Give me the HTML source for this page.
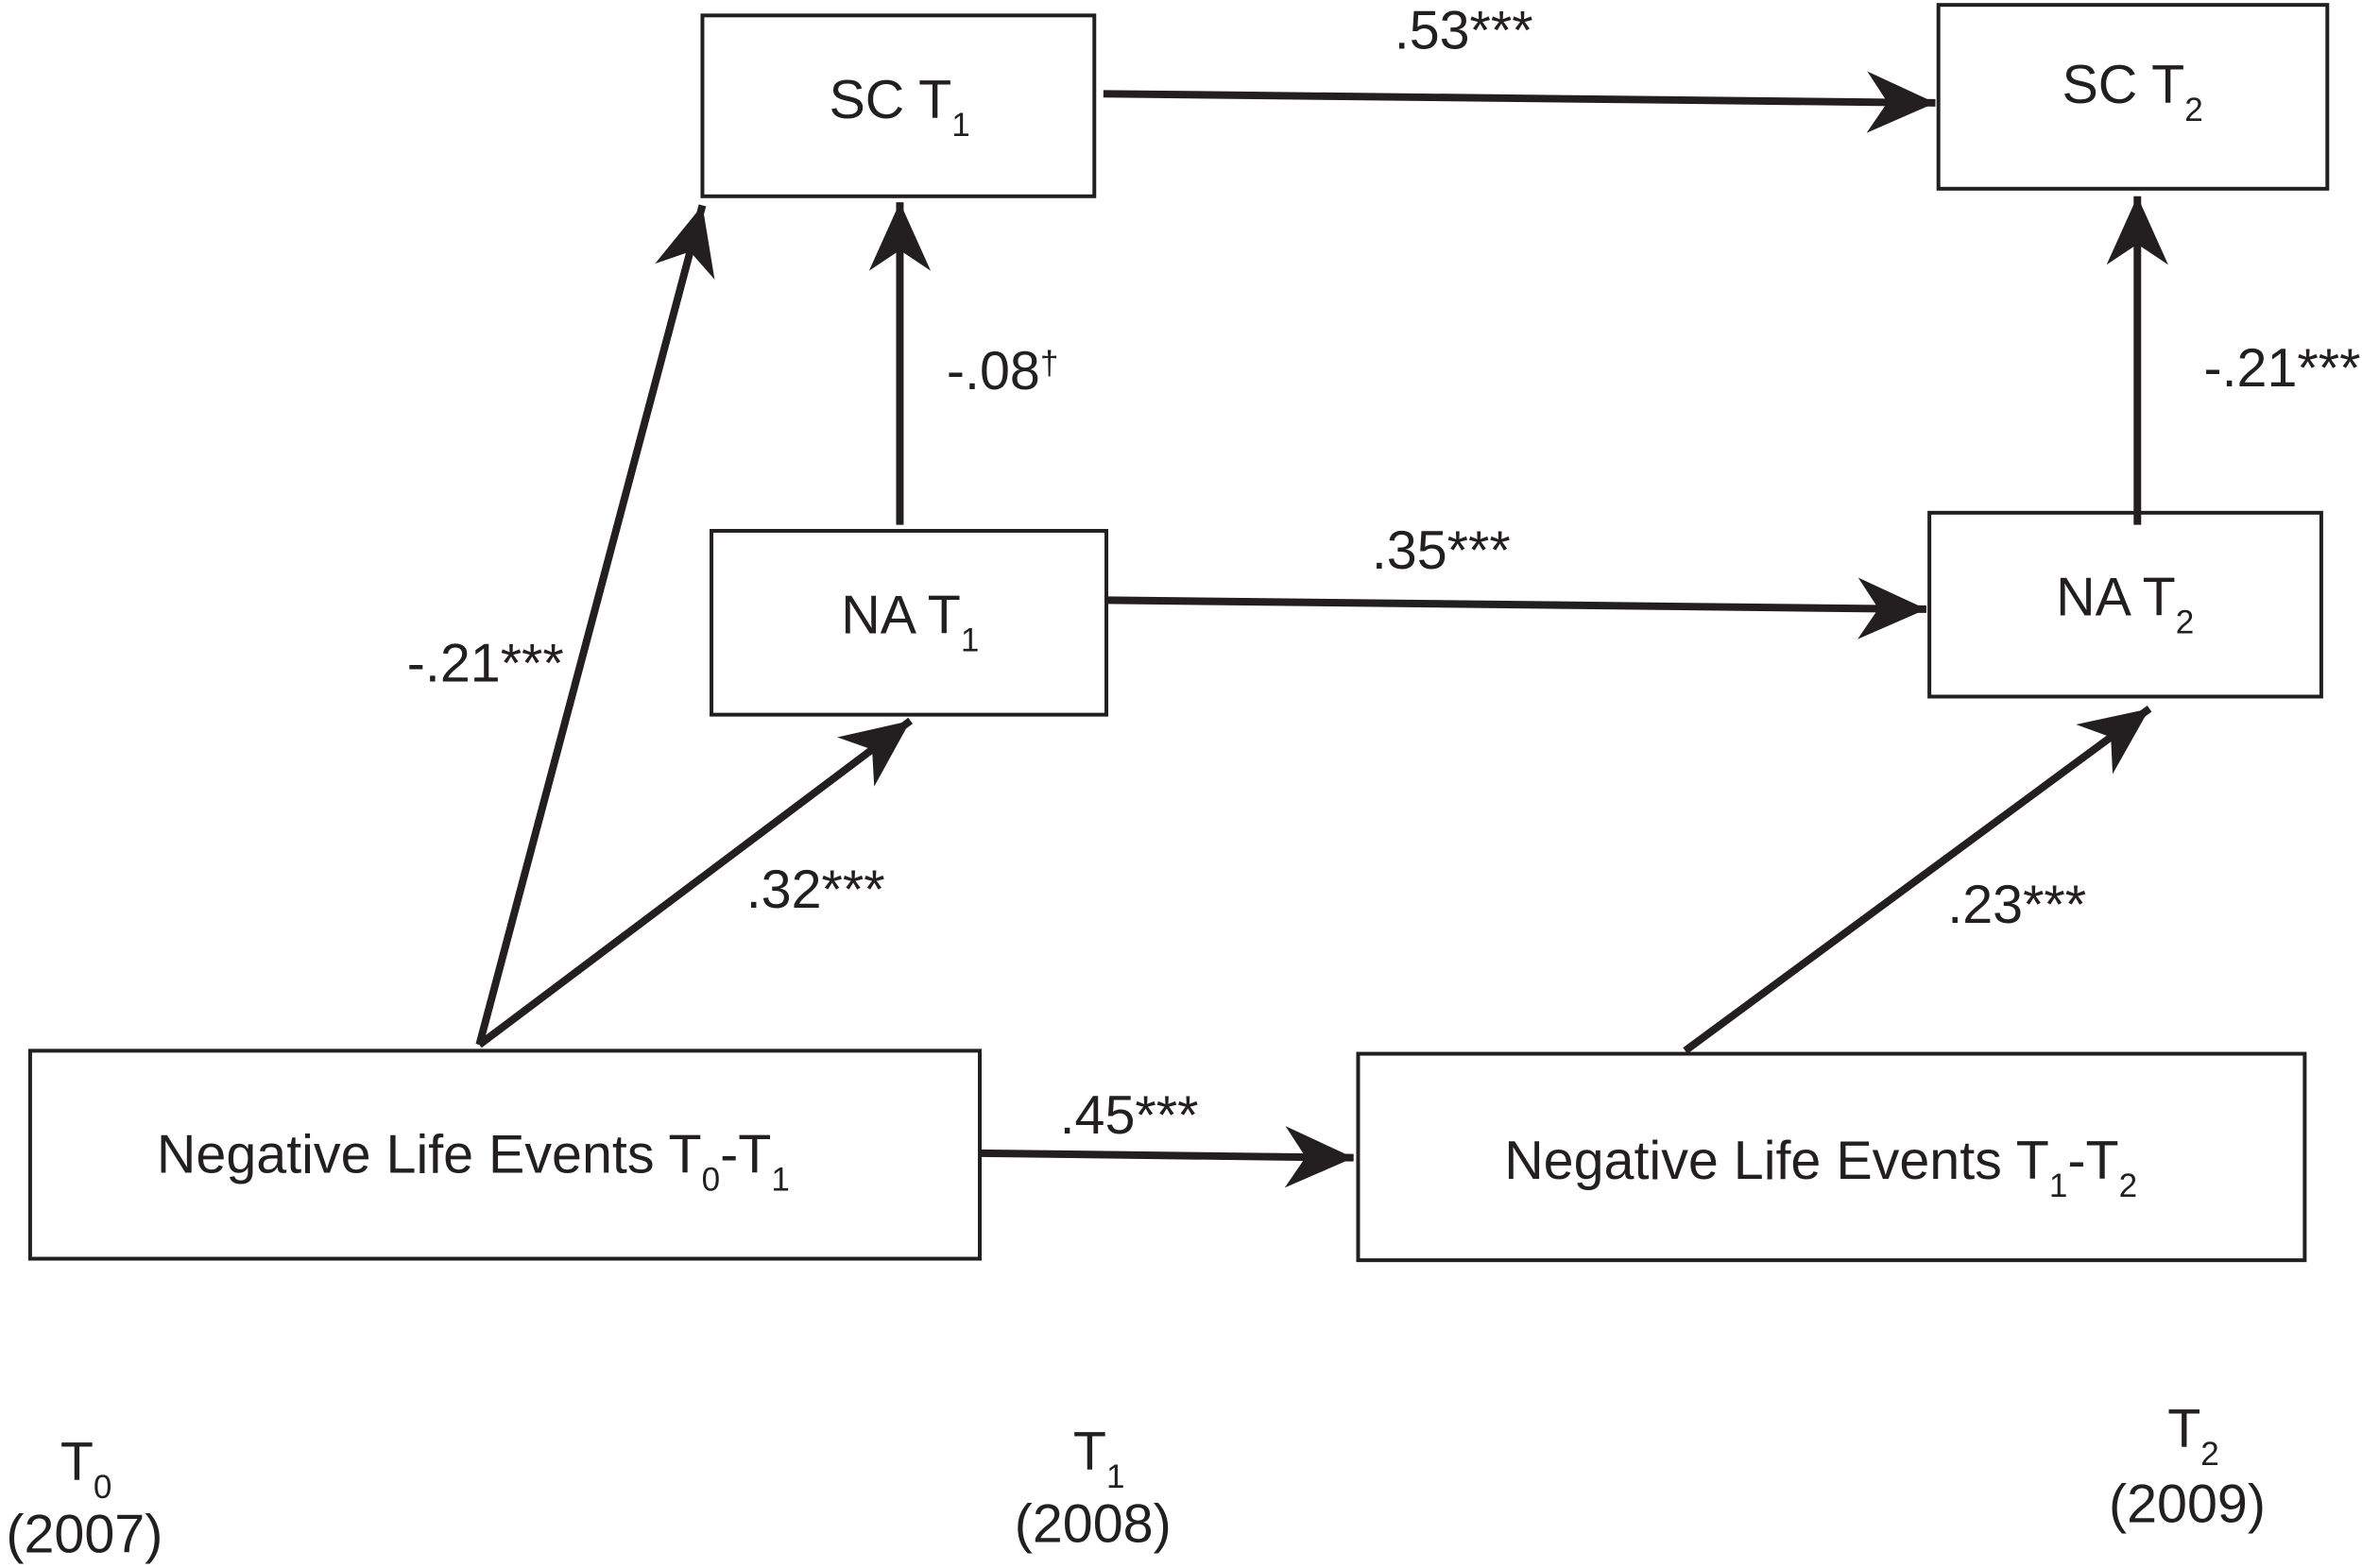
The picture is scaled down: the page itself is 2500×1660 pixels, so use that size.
<!DOCTYPE html>
<html><head><meta charset="utf-8"><style>
html,body{margin:0;padding:0;background:#fff;}
svg{display:block;}
text{font-family:"Liberation Sans",Arial,sans-serif;fill:#231f20;}
</style></head><body>
<svg width="2500" height="1660" viewBox="0 0 1567 1040" xmlns="http://www.w3.org/2000/svg">
<defs>
<marker id="a" markerUnits="userSpaceOnUse" markerWidth="50" markerHeight="50" viewBox="-40 -20 44 40" refX="0" refY="0" orient="auto">
<path d="M0,0 L-40,-18 L-28,0 L-40,18 Z" fill="#231f20"/>
</marker>
</defs>
<g fill="none" stroke="#231f20" stroke-width="2.5">
<rect x="466" y="10" width="260" height="120"/>
<rect x="1286" y="3" width="258" height="122"/>
<rect x="472" y="352" width="262" height="122"/>
<rect x="1280" y="340" width="260" height="122"/>
<rect x="20" y="697" width="630" height="138"/>
<rect x="901" y="699" width="628" height="137"/>
</g>
<g stroke="#231f20" stroke-width="5" fill="none" marker-end="url(#a)">
<line x1="732" y1="62" x2="1284" y2="68"/>
<line x1="597" y1="348" x2="597" y2="134"/>
<line x1="734" y1="398" x2="1278" y2="404"/>
<line x1="1418" y1="348" x2="1418" y2="130"/>
<line x1="318" y1="693" x2="466" y2="136"/>
<line x1="318" y1="693" x2="604" y2="478"/>
<line x1="650" y1="765" x2="898" y2="768"/>
<line x1="1118" y1="697" x2="1426" y2="470"/>
</g>
<g font-size="36">
<text x="550" y="78">SC T<tspan font-size="22" dy="12">1</tspan></text>
<text x="1368" y="68">SC T<tspan font-size="22" dy="12">2</tspan></text>
<text x="558" y="420">NA T<tspan font-size="22" dy="12">1</tspan></text>
<text x="1364" y="408">NA T<tspan font-size="22" dy="12">2</tspan></text>
<text x="104" y="778">Negative Life Events T<tspan font-size="22" dy="12">0</tspan><tspan dy="-12">-T</tspan><tspan font-size="22" dy="12">1</tspan></text>
<text x="998" y="782">Negative Life Events T<tspan font-size="22" dy="12">1</tspan><tspan dy="-12">-T</tspan><tspan font-size="22" dy="12">2</tspan></text>
<text x="925" y="32">.53***</text>
<text x="628" y="258">-.08<tspan font-size="22" dy="-10">†</tspan></text>
<text x="1462" y="256">-.21***</text>
<text x="910" y="377">.35***</text>
<text x="270" y="452">-.21***</text>
<text x="495" y="602">.32***</text>
<text x="1292" y="612">.23***</text>
<text x="703" y="752">.45***</text>
<text x="40" y="982">T<tspan font-size="22" dy="12">0</tspan></text>
<text x="4" y="1030">(2007)</text>
<text x="712" y="975">T<tspan font-size="22" dy="12">1</tspan></text>
<text x="673" y="1023">(2008)</text>
<text x="1438" y="960">T<tspan font-size="22" dy="12">2</tspan></text>
<text x="1399" y="1010">(2009)</text>
</g>
</svg>
</body></html>
